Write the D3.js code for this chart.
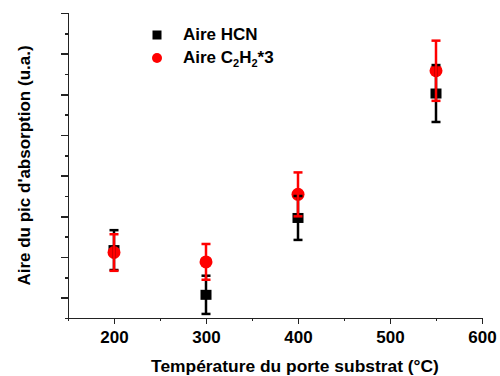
<!DOCTYPE html>
<meta charset="utf-8">
<head>
	<script src="https://cdn.jsdelivr.net/npm/d3@7"></script>
	<style>
		body { margin: 0; background: #fff; }
		text { font-family: "Liberation Sans", Arial, sans-serif; font-weight: bold; fill: #000; }
		.axis path, .axis line { stroke: #222; stroke-width: 1.5; shape-rendering: crispEdges; }
		.axis text { font-size: 17px; }
	</style>
</head>
<body>
	<svg id="svg"></svg>
</body>
<script>
	// temperatures (°C)
	var temps = [200, 300, 400, 550];
	// peak area, arbitrary units
	var hcn = [1.17, 0.07, 1.96, 5.02];
	var hcnErr = [0.49, 0.47, 0.54, 0.70];
	var c2h2 = [1.11, 0.88, 2.54, 5.58];
	var c2h2Err = [0.45, 0.44, 0.54, 0.74];

	var xTicks = [200, 300, 400, 500, 600];
	var xMinor = [150, 250, 350, 450, 550];
	var yTicks = [0, 1, 2, 3, 4, 5, 6, 7];
	var yMinor = [-0.5, 0.5, 1.5, 2.5, 3.5, 4.5, 5.5, 6.5];

	var width = 500, height = 376;
	var margin = { left: 68, right: 18, top: 13, bottom: 58 };

	var svg = d3.select("#svg")
		.attr("width", width)
		.attr("height", height);

	var x = d3.scaleLinear().domain([150, 600]).range([margin.left, width - margin.right]);
	var y = d3.scaleLinear().domain([-0.5, 7]).range([height - margin.bottom, margin.top]);

	// x axis
	svg.append("g").attr("class", "axis")
		.attr("transform", "translate(0," + y(-0.5) + ")")
		.call(d3.axisBottom(x).tickValues(xMinor).tickSize(3).tickSizeOuter(0).tickFormat(""));
	svg.append("g").attr("class", "axis")
		.attr("transform", "translate(0," + y(-0.5) + ")")
		.call(d3.axisBottom(x).tickValues(xTicks).tickSize(6).tickSizeOuter(0).tickPadding(7));

	// y axis, no labels
	svg.append("g").attr("class", "axis")
		.attr("transform", "translate(" + x(150) + ",0)")
		.call(d3.axisLeft(y).tickValues(yMinor).tickSize(3.5).tickSizeOuter(0).tickFormat(""));
	svg.append("g").attr("class", "axis")
		.attr("transform", "translate(" + x(150) + ",0)")
		.call(d3.axisLeft(y).tickValues(yTicks).tickSize(7).tickSizeOuter(0).tickFormat(""));

	svg.selectAll(".axis .domain").attr("stroke-linecap", "square");

	// axis titles
	svg.append("text")
		.attr("x", 295)
		.attr("y", 372)
		.attr("text-anchor", "middle")
		.attr("font-size", "17.4px")
		.text("Température du porte substrat (°C)");

	svg.append("text")
		.attr("transform", "translate(30," + (y(-0.5) + y(7)) / 2 + ") rotate(-90)")
		.attr("text-anchor", "middle")
		.attr("font-size", "17px")
		.text("Aire du pic d'absorption (u.a.)");

	var hcnData = temps.map((t, i) => ({ t: t, v: hcn[i], e: hcnErr[i] }));
	var c2Data = temps.map((t, i) => ({ t: t, v: c2h2[i], e: c2h2Err[i] }));

	// markers
	svg.selectAll(".sq").data(hcnData).enter().append("rect")
		.attr("x", d => x(d.t) - 5.5)
		.attr("y", d => y(d.v) - 5)
		.attr("width", 11)
		.attr("height", 10)
		.attr("fill", "#000");

	svg.selectAll(".ci").data(c2Data).enter().append("circle")
		.attr("cx", d => x(d.t))
		.attr("cy", d => y(d.v))
		.attr("r", 6.5)
		.attr("fill", "#f00");

	// error bars
	function errorBars(data, color) {
		var g = svg.append("g").attr("stroke", color).attr("stroke-width", 2.5);
		g.selectAll(".v").data(data).enter().append("line")
			.attr("x1", d => x(d.t)).attr("x2", d => x(d.t))
			.attr("y1", d => y(d.v + d.e)).attr("y2", d => y(d.v - d.e));
		g.selectAll(".top").data(data).enter().append("line")
			.attr("x1", d => x(d.t) - 4.5).attr("x2", d => x(d.t) + 4.5)
			.attr("y1", d => y(d.v + d.e)).attr("y2", d => y(d.v + d.e));
		g.selectAll(".bot").data(data).enter().append("line")
			.attr("x1", d => x(d.t) - 4.5).attr("x2", d => x(d.t) + 4.5)
			.attr("y1", d => y(d.v - d.e)).attr("y2", d => y(d.v - d.e));
	}
	errorBars(hcnData, "#000");
	errorBars(c2Data, "#f00");

	// legend
	var legend = svg.append("g").attr("transform", "translate(157,35)");
	legend.append("rect").attr("x", -4.5).attr("y", -4.5).attr("width", 9).attr("height", 9).attr("fill", "#000");
	legend.append("circle").attr("cx", 0).attr("cy", 23).attr("r", 5).attr("fill", "#f00");
	legend.append("text").attr("x", 26).attr("y", 5).attr("font-size", "17px").text("Aire HCN");
	var t2 = legend.append("text").attr("x", 26).attr("y", 28).attr("font-size", "17px");
	t2.append("tspan").text("Aire C");
	t2.append("tspan").attr("font-size", "11px").attr("dy", 4).text("2");
	t2.append("tspan").attr("dy", -4).text("H");
	t2.append("tspan").attr("font-size", "11px").attr("dy", 4).text("2");
	t2.append("tspan").attr("dy", -4).text("*3");
</script>
